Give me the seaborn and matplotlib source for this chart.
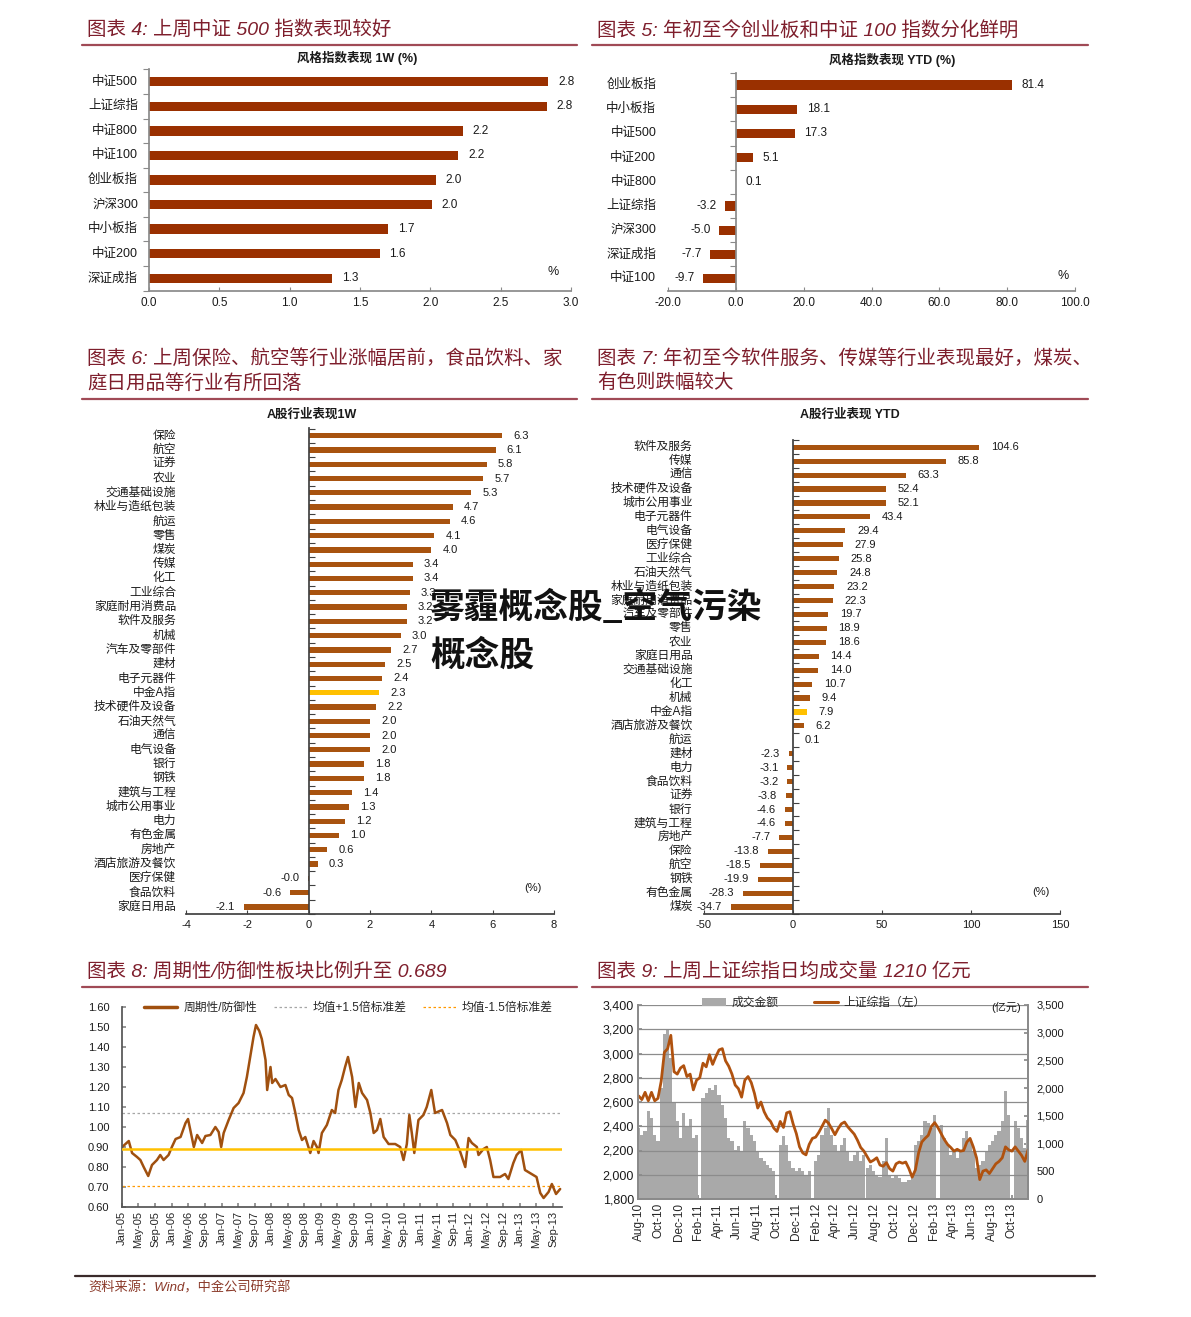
import numpy as np
import pandas as pd
import matplotlib
matplotlib.use('Agg')
import matplotlib.pyplot as plt
import matplotlib.dates as mdates
from matplotlib.lines import Line2D
from matplotlib.patches import Patch
from matplotlib.transforms import blended_transform_factory
import seaborn as sns

# ------------------------------------------------------------------ data
style_1w_names = ['中证500', '上证综指', '中证800', '中证100', '创业板指', '沪深300', '中小板指', '中证200', '深证成指']
style_1w_values = [2.84, 2.83, 2.23, 2.20, 2.04, 2.01, 1.70, 1.64, 1.30]

style_ytd_names = ['创业板指', '中小板指', '中证500', '中证200', '中证800', '上证综指', '沪深300', '深证成指', '中证100']
style_ytd_values = [81.4, 18.1, 17.3, 5.1, 0.1, -3.2, -5.0, -7.7, -9.7]

ind_1w_names = ['保险', '航空', '证券', '农业', '交通基础设施', '林业与造纸包装', '航运', '零售', '煤炭', '传媒',
                '化工', '工业综合', '家庭耐用消费品', '软件及服务', '机械', '汽车及零部件', '建材', '电子元器件',
                '中金A指', '技术硬件及设备', '石油天然气', '通信', '电气设备', '银行', '钢铁', '建筑与工程',
                '城市公用事业', '电力', '有色金属', '房地产', '酒店旅游及餐饮', '医疗保健', '食品饮料', '家庭日用品']
ind_1w_values = [6.3, 6.1, 5.8, 5.7, 5.3, 4.7, 4.6, 4.1, 4.0, 3.4, 3.4, 3.3, 3.2, 3.2, 3.0, 2.7, 2.5, 2.4,
                 2.3, 2.2, 2.0, 2.0, 2.0, 1.8, 1.8, 1.4, 1.3, 1.2, 1.0, 0.6, 0.3, -0.02, -0.6, -2.1]

ind_ytd_names = ['软件及服务', '传媒', '通信', '技术硬件及设备', '城市公用事业', '电子元器件', '电气设备', '医疗保健',
                 '工业综合', '石油天然气', '林业与造纸包装', '家庭耐用消费品', '汽车及零部件', '零售', '农业',
                 '家庭日用品', '交通基础设施', '化工', '机械', '中金A指', '酒店旅游及餐饮', '航运', '建材', '电力',
                 '食品饮料', '证券', '银行', '建筑与工程', '房地产', '保险', '航空', '钢铁', '有色金属', '煤炭']
ind_ytd_values = [104.6, 85.8, 63.3, 52.4, 52.1, 43.4, 29.4, 27.9, 25.8, 24.8, 23.2, 22.3, 19.7, 18.9, 18.6,
                  14.4, 14.0, 10.7, 9.4, 7.9, 6.2, 0.1, -2.3, -3.1, -3.2, -3.8, -4.6, -4.6, -7.7, -13.8,
                  -18.5, -19.9, -28.3, -34.7]
highlight_name = '中金A指'

# cyclical / defensive ratio: months since Jan-2005 and ratio value
ratio_month = [0, 1.6, 2.4, 3.6, 4.4, 5.2, 6.3, 7.2, 8.4, 9.2, 10, 11.2, 12, 12.9, 14.1, 15.3, 15.9, 16.7,
               17.3, 18.1, 19.3, 20.1, 21.3, 22.5, 23.3, 23.9, 24.5, 25.7, 26.9, 28.1, 29.3, 30.1, 30.9,
               31.7, 32.3, 33.1, 33.7, 34.6, 35.0, 35.8, 36.2, 37, 38.2, 39.4, 40.2, 41, 41.8, 42.6, 43.4,
               44.2, 45.4, 46.2, 47, 47.4, 48.2, 49.4, 50.6, 51.4, 52.2, 53.0, 53.8, 54.5, 55.5, 56.3, 57.1,
               57.9, 59.1, 59.9, 60.7, 61.5, 62.3, 63.1, 64.3, 65.9, 67.1, 67.9, 68.7, 69.3, 69.9, 70.5,
               71.5, 72.7, 73.5, 74.6, 75.5, 77.2, 78.4, 79.2, 80.4, 81.6, 82.8, 83.6, 84.4, 85.6, 86.0,
               87.2, 88.0, 88.8, 89.6, 91.2, 92.4, 93.2, 94.4, 95.2, 96.3, 97.2, 98.8, 100, 100.9, 101.7,
               102.9, 103.7, 104.7, 105.7]
ratio_value = [0.90, 0.93, 0.87, 0.85, 0.835, 0.80, 0.755, 0.81, 0.835, 0.86, 0.835, 0.86, 0.90, 0.94, 0.95,
               1.02, 1.04, 0.96, 0.90, 0.96, 0.92, 0.955, 0.96, 1.00, 0.975, 0.90, 0.97, 1.035, 1.095, 1.12,
               1.17, 1.25, 1.35, 1.45, 1.51, 1.48, 1.44, 1.335, 1.185, 1.30, 1.22, 1.24, 1.20, 1.21, 1.16,
               1.145, 1.07, 0.985, 0.935, 0.95, 0.87, 0.93, 0.90, 0.87, 0.97, 1.01, 1.085, 1.07, 1.185,
               1.235, 1.30, 1.35, 1.25, 1.10, 1.22, 1.17, 1.135, 1.07, 0.97, 0.985, 1.04, 0.95, 0.915,
               0.915, 0.90, 0.835, 0.915, 1.06, 0.97, 0.87, 1.035, 1.06, 1.10, 1.185, 1.07, 1.085, 1.02,
               0.96, 0.935, 0.875, 0.80, 0.945, 0.92, 0.90, 0.86, 0.89, 0.90, 0.835, 0.75, 0.75, 0.765,
               0.74, 0.82, 0.86, 0.885, 0.785, 0.765, 0.75, 0.67, 0.645, 0.675, 0.715, 0.665, 0.69]
ratio_mean = 0.89
ratio_upper = 1.07
ratio_lower = 0.705

# Shanghai composite (10-day samples from 2010-07-30) and turnover (亿元)
sh_start = '2010-07-30'
sh_index = [2650, 2620, 2680, 2610, 2680, 2610, 2630, 2770, 3010, 3040,
            3150, 2850, 2830, 2880, 2900, 2810, 2830, 2700, 2780, 2800,
            2920, 2890, 2990, 2910, 2975, 3030, 3040, 2940, 2895, 2830,
            2740, 2710, 2640, 2780, 2810, 2760, 2670, 2550, 2600, 2520,
            2468, 2440, 2385, 2357, 2440, 2390, 2510, 2520, 2420, 2340,
            2230, 2180, 2164, 2250, 2300, 2310, 2350, 2400, 2450, 2426,
            2380, 2330, 2380, 2420, 2435, 2395, 2365, 2335, 2285, 2225,
            2195, 2150, 2105, 2120, 2140, 2080, 2070, 2100, 2050, 2030,
            2090, 2105, 2095, 2105, 2050, 1980, 2040, 2180, 2270, 2300,
            2325, 2399, 2430, 2390, 2340, 2290, 2250, 2225, 2195, 2210,
            2195, 2200, 2270, 2300, 2230, 2140, 1960, 2030, 2040, 2010,
            2050, 2090, 2110, 2140, 2230, 2205, 2195, 2230, 2195, 2160,
            2110, 2205]
sh_turnover = [1280, 1160, 1220, 1580, 1460, 1160, 1050, 2000, 2970, 3050,
               2550, 1750, 1400, 1100, 1550, 1300, 1450, 1100, 1150, 0,
               1820, 1910, 2000, 1970, 2060, 1880, 1700, 1460, 1100, 1040,
               890, 950, 860, 1400, 1280, 1160, 1040, 860, 740, 680,
               620, 560, 500, 0, 980, 1130, 980, 680, 560, 500,
               560, 500, 430, 500, 0, 680, 800, 1160, 1280, 1640,
               1160, 980, 860, 980, 1100, 860, 680, 800, 850, 680,
               800, 560, 620, 500, 430, 400, 680, 1100, 430, 370,
               430, 370, 310, 310, 340, 430, 980, 1040, 1160, 1400,
               1370, 1280, 1520, 0, 1340, 1100, 980, 800, 860, 740,
               860, 1100, 1220, 1040, 860, 560, 620, 680, 860, 980,
               1040, 1160, 1220, 1400, 1940, 1520, 0, 1400, 1280, 1100,
               920, 1430]

# ------------------------------------------------------------------ style
sns.set_theme(style='ticks')
plt.rcParams['font.family'] = ['Liberation Sans', 'Noto Sans CJK SC', 'DejaVu Sans']
plt.rcParams['axes.unicode_minus'] = False

W, H = 1191, 1317
fig = plt.figure(figsize=(W / 100, H / 100), dpi=100)
fig.patch.set_facecolor('white')

TITLE_C = '#7E1E2C'
RULE_C = '#A04A56'
BAR_RED = '#9A3000'
BAR_BROWN = '#A8530F'
GOLD = '#FFC000'
SPINE = '#8A8A8A'
TXT = '#1a1a1a'


def rect(l, t, r, b):
    return [l / W, 1 - b / H, (r - l) / W, (b - t) / H]


def ftext(x, y, s, **kw):
    fig.text(x / W, 1 - y / H, s, **kw)


def rule(x0, x1, y, color=RULE_C, lw=1.6):
    fig.add_artist(Line2D([x0 / W, x1 / W], [1 - y / H, 1 - y / H], color=color, lw=lw))


def title(x, y, s):
    ftext(x, y, s, color=TITLE_C, fontsize=14, style='italic', ha='left', va='center')


def hbar(ax, names, values, colors, width, xlim, xticks, tickfmt, pads, cat_x, cat_fs, val_fs,
         off_pos, off_neg, ytick_dir, spine_c, tick_fs):
    df = pd.DataFrame({'name': names, 'value': values})
    sns.barplot(data=df, x='value', y='name', hue='name', palette=dict(zip(names, colors)),
                orient='h', width=width, saturation=1, legend=False, ax=ax, linewidth=0)
    n = len(names)
    ax.set_xlim(*xlim)
    ax.set_ylim(n - 1 + pads[1], -pads[0])
    ax.set_xticks(xticks)
    ax.set_xticklabels([tickfmt.format(t) for t in xticks], fontsize=tick_fs, color=TXT)
    ax.set_yticks([])
    ax.set_yticks(np.arange(n + 1) - 0.5, minor=True)
    ax.set_xlabel('')
    ax.set_ylabel('')
    for s in ['top', 'right']:
        ax.spines[s].set_visible(False)
    ax.spines['left'].set_position(('data', 0))
    ax.spines['left'].set_color(spine_c)
    ax.spines['bottom'].set_color(spine_c)
    ax.tick_params(axis='y', which='minor', direction=ytick_dir, length=4, width=0.8,
                   color=spine_c, left=True)
    ax.tick_params(axis='y', which='major', length=0)
    ax.tick_params(axis='x', direction='in', length=3, width=0.8, color=spine_c, pad=4, bottom=True)
    tr = blended_transform_factory(ax.transAxes, ax.transData)
    for i, (nm, v) in enumerate(zip(names, values)):
        ax.text(cat_x, i, nm, transform=tr, ha='right', va='center', fontsize=cat_fs, color=TXT)
        if v >= 0:
            ax.annotate(f'{v:.1f}', xy=(v, i), xytext=(off_pos, 0), textcoords='offset points',
                        ha='left', va='center', fontsize=val_fs, color=TXT)
        else:
            ax.annotate(f'{v:.1f}', xy=(v, i), xytext=(-off_neg, 0), textcoords='offset points',
                        ha='right', va='center', fontsize=val_fs, color=TXT)
    ax.set_facecolor('white')


# ------------------------------------------------------------------ panel 4
title(87, 30, '图表 4: 上周中证 500 指数表现较好')
rule(82, 577, 45)
ftext(357, 58, '风格指数表现 1W (%)', fontsize=9, fontweight='bold', ha='center', va='center', color=TXT)
ax4 = fig.add_axes(rect(149, 69, 571, 291))
hbar(ax4, style_1w_names, style_1w_values, [BAR_RED] * len(style_1w_names), 0.38,
     (0, 3.0), [0, 0.5, 1.0, 1.5, 2.0, 2.5, 3.0], '{:.1f}', (0.52, 0.52), -0.026, 9, 8.5,
     7, 6, 'out', SPINE, 8.5)
ax4.text(0.957, 0.086, '%', transform=ax4.transAxes, fontsize=9, ha='center', va='center', color=TXT)

# ------------------------------------------------------------------ panel 5
title(597, 30, '图表 5: 年初至今创业板和中证 100 指数分化鲜明')
rule(592, 1088, 45)
ftext(892, 60, '风格指数表现 YTD (%)', fontsize=9, fontweight='bold', ha='center', va='center', color=TXT)
ax5 = fig.add_axes(rect(668, 73, 1075, 291))
hbar(ax5, style_ytd_names, style_ytd_values, [BAR_RED] * len(style_ytd_names), 0.38,
     (-20, 100), [-20, 0, 20, 40, 60, 80, 100], '{:.1f}', (0.48, 0.52), -0.029, 9, 8.5,
     7, 6, 'out', SPINE, 8.5)
ax5.text(0.970, 0.069, '%', transform=ax5.transAxes, fontsize=9, ha='center', va='center', color=TXT)

# ------------------------------------------------------------------ panel 6
title(87, 358, '图表 6: 上周保险、航空等行业涨幅居前，食品饮料、家')
title(87, 383, '庭日用品等行业有所回落')
rule(82, 577, 399)
ftext(312, 415, 'A股行业表现1W', fontsize=9, fontweight='bold', ha='center', va='center', color=TXT)
ax6 = fig.add_axes(rect(186, 428, 554, 914))
c6 = [GOLD if n == highlight_name else BAR_BROWN for n in ind_1w_names]
hbar(ax6, ind_1w_names, ind_1w_values, c6, 0.37, (-4, 8), [-4, -2, 0, 2, 4, 6, 8], '{:.0f}',
     (0.54, 0.42), -0.027, 8.5, 8, 8, 6.5, 'in', '#404040', 8)
ax6.text(0.943, 0.053, '(%)', transform=ax6.transAxes, fontsize=8, ha='center', va='center', color=TXT)

# ------------------------------------------------------------------ panel 7
title(597, 358, '图表 7: 年初至今软件服务、传媒等行业表现最好，煤炭、')
title(597, 383, '有色则跌幅较大')
rule(592, 1088, 399)
ftext(850, 415, 'A股行业表现 YTD', fontsize=9, fontweight='bold', ha='center', va='center', color=TXT)
ax7 = fig.add_axes(rect(704, 440, 1060, 914))
c7 = [GOLD if n == highlight_name else BAR_BROWN for n in ind_ytd_names]
hbar(ax7, ind_ytd_names, ind_ytd_values, c7, 0.37, (-50, 150), [-50, 0, 50, 100, 150], '{:.0f}',
     (0.52, 0.43), -0.032, 8.5, 8, 8.5, 6.5, 'in', '#404040', 8)
ax7.text(0.947, 0.046, '(%)', transform=ax7.transAxes, fontsize=8, ha='center', va='center', color=TXT)

# ------------------------------------------------------------------ panel 8
title(87, 972, '图表 8: 周期性/防御性板块比例升至 0.689')
rule(82, 577, 987)
ax8 = fig.add_axes(rect(122, 1007, 562, 1207))
ratio_dates = pd.Timestamp('2005-01-01') + pd.to_timedelta(np.array(ratio_month) * 30.44, unit='D')
df8 = pd.DataFrame({'date': ratio_dates, 'ratio': ratio_value})
ax8.axhline(ratio_upper, color='#A6A6A6', lw=0.9, ls=(0, (2, 2)), zorder=1)
ax8.axhline(ratio_lower, color='#FF9900', lw=0.9, ls=(0, (2, 2)), zorder=1)
sns.lineplot(data=df8, x='date', y='ratio', ax=ax8, color='#A0500F', lw=1.8, zorder=2)
ax8.axhline(ratio_mean, color=GOLD, lw=1.8, zorder=3)
ax8.set_ylim(0.60, 1.60)
ax8.set_xlim(pd.Timestamp('2004-12-31'), pd.Timestamp('2013-11-06'))
ax8.set_yticks(np.round(np.arange(0.60, 1.61, 0.10), 2))
ax8.set_yticklabels([f'{v:.2f}' for v in np.arange(0.60, 1.61, 0.10)], fontsize=8, color=TXT)
ax8.xaxis.set_major_locator(mdates.MonthLocator(bymonth=[1, 5, 9]))
ax8.xaxis.set_major_formatter(mdates.DateFormatter('%b-%y'))
ax8.tick_params(axis='x', direction='in', length=3, color=SPINE, pad=3, labelrotation=90, labelsize=8)
ax8.tick_params(axis='y', direction='in', length=3, color=SPINE, pad=9)
ax8.set_xlabel('')
ax8.set_ylabel('')
for s in ['top', 'right']:
    ax8.spines[s].set_visible(False)
for s in ['left', 'bottom']:
    ax8.spines[s].set_color('#555555')
h8 = [Line2D([], [], color='#A0500F', lw=2.5),
      Line2D([], [], color='#A6A6A6', lw=0.9, ls=(0, (2, 2))),
      Line2D([], [], color='#FF9900', lw=0.9, ls=(0, (2, 2)))]
ax8.legend(h8, ['周期性/防御性', '均值+1.5倍标准差', '均值-1.5倍标准差'], ncol=3, loc='center',
           bbox_to_anchor=(0.515, 0.995), frameon=False, fontsize=8.5, handlelength=2.8,
           columnspacing=1.4, handletextpad=0.5)

# ------------------------------------------------------------------ panel 9
title(597, 972, '图表 9: 上周上证综指日均成交量 1210 亿元')
rule(592, 1088, 987)
ax9 = fig.add_axes(rect(638, 1005, 1028, 1199))
sh_dates = pd.date_range(sh_start, periods=len(sh_index), freq='10D')
ax9.bar(sh_dates, sh_turnover, width=10, color='#A9A9A9', linewidth=0, align='center')
ax9l = ax9.twinx()
# turnover axis on the right, index axis on the left
ax9.yaxis.tick_right()
ax9.yaxis.set_label_position('right')
ax9l.yaxis.tick_left()
ax9l.yaxis.set_label_position('left')
ax9.set_ylim(0, 3500)
ax9.set_yticks(range(0, 3501, 500))
ax9.set_yticklabels([f'{v:,}' for v in range(0, 3501, 500)], fontsize=8, color=TXT)
ax9.tick_params(axis='y', direction='in', length=3, color=SPINE, pad=6, left=False, labelleft=False,
                right=True, labelright=True)
df9 = pd.DataFrame({'date': sh_dates, 'index': sh_index})
ax9l.grid(axis='y', color='#8C8C8C', lw=0.9)
sns.lineplot(data=df9, x='date', y='index', ax=ax9l, color='#B0520F', lw=2.0)
ax9l.set_ylim(1800, 3400)
ax9l.set_yticks(range(1800, 3401, 200))
ax9l.set_yticklabels([f'{v:,}' for v in range(1800, 3401, 200)], fontsize=9, color=TXT)
ax9l.tick_params(axis='y', direction='in', length=3, color=SPINE, pad=3, left=True, labelleft=True,
                 right=False, labelright=False)
ax9l.set_ylabel('')
ax9l.set_xlabel('')
ax9.set_ylabel('')
ax9.set_xlim(pd.Timestamp('2010-07-28'), pd.Timestamp('2013-11-21'))
ax9.xaxis.set_major_locator(mdates.MonthLocator(bymonth=[2, 4, 6, 8, 10, 12]))
ax9.xaxis.set_major_formatter(mdates.DateFormatter('%b-%y'))
ax9.tick_params(axis='x', direction='in', length=3, color=SPINE, pad=3, labelrotation=90, labelsize=8.5)
for a in (ax9, ax9l):
    a.spines['top'].set_visible(False)
    for s in ['left', 'right', 'bottom']:
        a.spines[s].set_color(SPINE)
h9 = [Patch(facecolor='#A9A9A9', edgecolor='none'), Line2D([], [], color='#B0520F', lw=2.2)]
ax9l.legend(h9, ['成交金额', '上证综指（左）'], ncol=2, loc='center', bbox_to_anchor=(0.45, 1.01),
            frameon=False, fontsize=8.5, handlelength=2.1, columnspacing=3.0, handletextpad=0.4)
ax9l.text(0.944, 0.985, '(亿元)', transform=ax9l.transAxes, fontsize=8, ha='center', va='center', color=TXT)

# ------------------------------------------------------------------ footer & overlay
rule(75, 1095, 1276, color='#3A2A2A', lw=1.6)
ftext(88, 1288, '资料来源：Wind，中金公司研究部', fontsize=9.5, style='italic', color='#8B3A2A',
      ha='left', va='center')
ftext(430, 607, '雾霾概念股_空气污染', fontsize=25, fontweight='bold', color='#111111',
      ha='left', va='center', zorder=100, family=['Noto Sans CJK SC', 'DejaVu Sans'])
ftext(430, 655, '概念股', fontsize=25, fontweight='bold', color='#111111',
      ha='left', va='center', zorder=100, family=['Noto Sans CJK SC', 'DejaVu Sans'])

fig.savefig('out.png', dpi=100, facecolor='white')
